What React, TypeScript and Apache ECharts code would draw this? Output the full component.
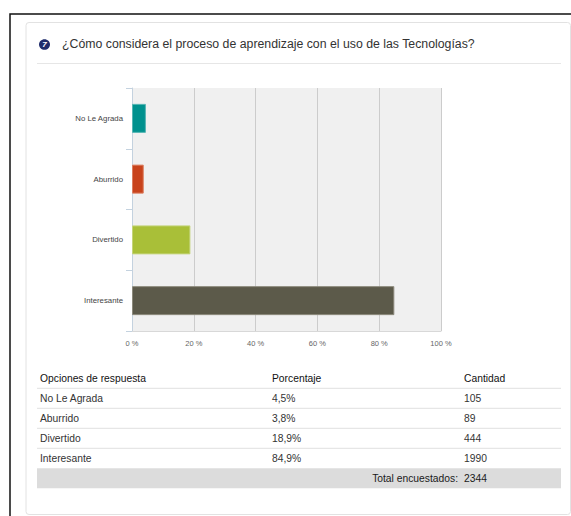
import React, { useEffect, useRef } from "react";
import * as echarts from "echarts";

const categories = ["No Le Agrada", "Aburrido", "Divertido", "Interesante"];
const percentages = [4.5, 3.8, 18.9, 84.9];
const counts = [105, 89, 444, 1990];
const barColors = ["#00918e", "#c8431c", "#a9bf38", "#5c5a4a"];
const barBorders = ["#55b5b3", "#dc7e60", "#c4d47a", "#8c8a7c"];
const xTicks = [0, 20, 40, 60, 80, 100];
const totalRespondents = 2344;
const title = "¿Cómo considera el proceso de aprendizaje con el uso de las Tecnologías?";
const headers = ["Opciones de respuesta", "Porcentaje", "Cantidad"];

const FONT = 'Arial, "Liberation Sans", sans-serif';

export default function App() {
  const ref = useRef<HTMLDivElement>(null);
  useEffect(() => {
    if (!ref.current) return;
    const chart = echarts.init(ref.current, null, { renderer: "svg" });

    const colX = [40, 272, 464];
    const rowTop = 368.3;
    const rowH = 20;
    const tableLeft = 37;
    const tableRight = 561;
    const tableFont = `10.3px ${FONT}`;

    const graphics: any[] = [];
    graphics.push({
      type: "rect",
      shape: { x: 10, y: 14, width: 600, height: 560 },
      style: { fill: "#fff", stroke: "#111", lineWidth: 1.5 },
      z: -10,
    });
    graphics.push({
      type: "rect",
      shape: { x: 26, y: 22.5, width: 544.5, height: 492, r: 3 },
      style: { fill: "#fff", stroke: "#e2e2e2", lineWidth: 1 },
      z: -9,
    });
    graphics.push({
      type: "ellipse",
      shape: { cx: 44.5, cy: 44.5, rx: 5.5, ry: 5.3 },
      style: { fill: "#1f2c6b" },
    });
    graphics.push({
      type: "text",
      x: 44.5,
      y: 44.8,
      style: {
        text: "7",
        fill: "#fff",
        font: `italic bold 8px ${FONT}`,
        align: "center",
        verticalAlign: "middle",
      },
    });
    graphics.push({
      type: "text",
      x: 62,
      y: 44,
      style: {
        text: title,
        fill: "#333",
        font: `12.3px ${FONT}`,
        verticalAlign: "middle",
      },
    });
    graphics.push({
      type: "line",
      shape: { x1: 37, y1: 63.5, x2: 561, y2: 63.5 },
      style: { stroke: "#e6e6e6", lineWidth: 1 },
    });

    headers.forEach((h, i) => {
      graphics.push({
        type: "text",
        x: colX[i],
        y: rowTop + rowH / 2,
        style: { text: h, fill: "#111", font: tableFont, verticalAlign: "middle" },
      });
    });
    const rows = categories.map((c, i) => [
      c,
      percentages[i].toFixed(1).replace(".", ",") + "%",
      String(counts[i]),
    ]);
    rows.forEach((r, ri) => {
      const top = rowTop + rowH * (ri + 1);
      graphics.push({
        type: "line",
        shape: { x1: tableLeft, y1: top, x2: tableRight, y2: top },
        style: { stroke: "#e0e0e0", lineWidth: 1 },
      });
      r.forEach((t, ci) => {
        graphics.push({
          type: "text",
          x: colX[ci],
          y: top + rowH / 2,
          style: { text: t, fill: "#333", font: tableFont, verticalAlign: "middle" },
        });
      });
    });
    const totalTop = rowTop + rowH * (rows.length + 1);
    graphics.push({
      type: "rect",
      shape: { x: tableLeft, y: totalTop, width: tableRight - tableLeft, height: rowH },
      style: { fill: "#dcdcdc" },
    });
    graphics.push({
      type: "text",
      x: 458,
      y: totalTop + rowH / 2,
      style: {
        text: "Total encuestados:",
        fill: "#1a1a1a",
        font: tableFont,
        align: "right",
        verticalAlign: "middle",
      },
    });
    graphics.push({
      type: "text",
      x: colX[2],
      y: totalTop + rowH / 2,
      style: { text: String(totalRespondents), fill: "#1a1a1a", font: tableFont, verticalAlign: "middle" },
    });

    chart.setOption({
      animation: false,
      backgroundColor: "transparent",
      grid: {
        left: 132,
        top: 88,
        width: 309,
        height: 243,
        show: true,
        backgroundColor: "#f0f0f0",
        borderWidth: 0,
        containLabel: false,
      },
      xAxis: {
        type: "value",
        min: xTicks[0],
        max: xTicks[xTicks.length - 1],
        interval: 20,
        axisLine: { show: true, lineStyle: { color: "#d8d8d8" } },
        axisTick: { show: false },
        splitLine: { show: true, lineStyle: { color: "#cccccc", width: 1 } },
        axisLabel: {
          formatter: "{value} %",
          color: "#666",
          fontSize: 7.5,
          fontFamily: FONT,
          margin: 8,
        },
      },
      yAxis: {
        type: "category",
        data: categories,
        inverse: true,
        axisLine: { show: true, lineStyle: { color: "#c4d2df" } },
        axisTick: { show: true, length: 6, lineStyle: { color: "#c4d2df" } },
        splitLine: { show: false },
        axisLabel: { color: "#444", fontSize: 7.8, fontFamily: FONT, margin: 9 },
      },
      series: [
        {
          type: "bar",
          data: percentages.map((v, i) => ({
            value: v,
            itemStyle: { color: barColors[i], borderColor: barBorders[i], borderWidth: 1 },
          })),
          barWidth: 29,
          silent: true,
        },
      ],
      graphic: graphics,
    });
    return () => chart.dispose();
  }, []);
  return (
    <div
      ref={ref}
      style={{ position: "fixed", left: 0, top: 0, width: 571, height: 516, background: "#fff" }}
    />
  );
}
